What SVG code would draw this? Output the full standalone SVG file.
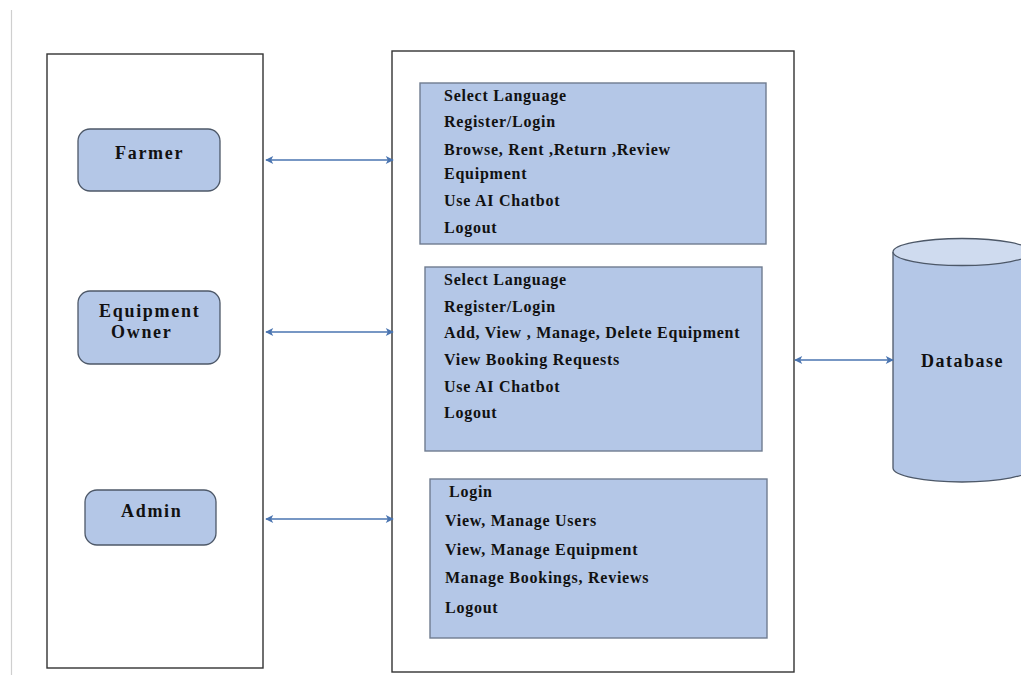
<svg xmlns="http://www.w3.org/2000/svg" width="1021" height="675" viewBox="0 0 1021 675">
  <defs>
    <marker id="ah" viewBox="0 0 10 10" refX="9" refY="5" markerWidth="9" markerHeight="8" markerUnits="userSpaceOnUse" orient="auto-start-reverse">
      <path d="M0,0 L10,5 L0,10 L2.5,5 Z" fill="#4a74b0"/>
    </marker>
  </defs>
  <style>
    .outer { fill: #ffffff; stroke: #333333; stroke-width: 1.4; }
    .node { fill: #b4c7e7; stroke: #4d5868; stroke-width: 1.3; }
    .panel { fill: #b4c7e7; stroke: #6f7c90; stroke-width: 1.4; }
    .lbl { font-family: "Liberation Serif", "Times New Roman", serif; font-weight: bold; font-size: 18px; letter-spacing: 1.7px; fill: #111111; }
    .item { font-family: "Liberation Serif", "Times New Roman", serif; font-weight: bold; font-size: 16px; letter-spacing: 0.75px; fill: #111111; }
    .conn { stroke: #4a74b0; stroke-width: 1.3; fill: none; marker-start: url(#ah); marker-end: url(#ah); }
  </style>
  <rect width="1021" height="675" fill="#ffffff"/>
  <line x1="11.5" y1="10" x2="11.5" y2="675" stroke="#cfcfcf" stroke-width="1.2"/>

  <g id="users-frame">
    <rect class="outer" x="47" y="54" width="216" height="614"/>
  </g>
  <g id="system-frame">
    <rect class="outer" x="392" y="51" width="402" height="621"/>
  </g>

  <g id="farmer">
    <rect class="node" x="78" y="129" width="142" height="62" rx="12"/>
    <text class="lbl" x="115" y="159">Farmer</text>
  </g>
  <g id="equipment-owner">
    <rect class="node" x="78" y="291" width="142" height="73" rx="12"/>
    <text class="lbl" x="99" y="317">Equipment</text>
    <text class="lbl" x="111" y="338">Owner</text>
  </g>
  <g id="admin">
    <rect class="node" x="85" y="490" width="131" height="55" rx="12"/>
    <text class="lbl" x="121" y="517">Admin</text>
  </g>

  <g id="farmer-functions">
    <rect class="panel" x="420" y="83" width="346" height="161"/>
    <text class="item" x="444" y="101">Select Language</text>
    <text class="item" x="444" y="127">Register/Login</text>
    <text class="item" x="444" y="155">Browse, Rent ,Return ,Review</text>
    <text class="item" x="444" y="179">Equipment</text>
    <text class="item" x="444" y="206">Use AI Chatbot</text>
    <text class="item" x="444" y="233">Logout</text>
  </g>
  <g id="owner-functions">
    <rect class="panel" x="425" y="267" width="337" height="184"/>
    <text class="item" x="444" y="285">Select Language</text>
    <text class="item" x="444" y="312">Register/Login</text>
    <text class="item" x="444" y="338">Add, View , Manage, Delete Equipment</text>
    <text class="item" x="444" y="365">View Booking Requests</text>
    <text class="item" x="444" y="392">Use AI Chatbot</text>
    <text class="item" x="444" y="418">Logout</text>
  </g>
  <g id="admin-functions">
    <rect class="panel" x="430" y="479" width="337" height="159"/>
    <text class="item" x="449" y="497">Login</text>
    <text class="item" x="445" y="526">View, Manage Users</text>
    <text class="item" x="445" y="555">View, Manage Equipment</text>
    <text class="item" x="445" y="583">Manage Bookings, Reviews</text>
    <text class="item" x="445" y="613">Logout</text>
  </g>

  <g id="database">
    <path d="M893,252 L893,468 A69,14 0 0 0 1031,468 L1031,252" fill="#b4c7e7" stroke="#4d5868" stroke-width="1.3"/>
    <ellipse cx="962" cy="252" rx="69" ry="13.5" fill="#cfdbef" stroke="#4d5868" stroke-width="1.3"/>
    <text class="lbl" x="921" y="367" style="letter-spacing:1.5px">Database</text>
  </g>

  <g id="connectors">
    <line class="conn" x1="266" y1="160" x2="393" y2="160"/>
    <line class="conn" x1="266" y1="332" x2="393" y2="332"/>
    <line class="conn" x1="266" y1="519" x2="393" y2="519"/>
    <line class="conn" x1="795" y1="360" x2="893" y2="360"/>
  </g>
</svg>
